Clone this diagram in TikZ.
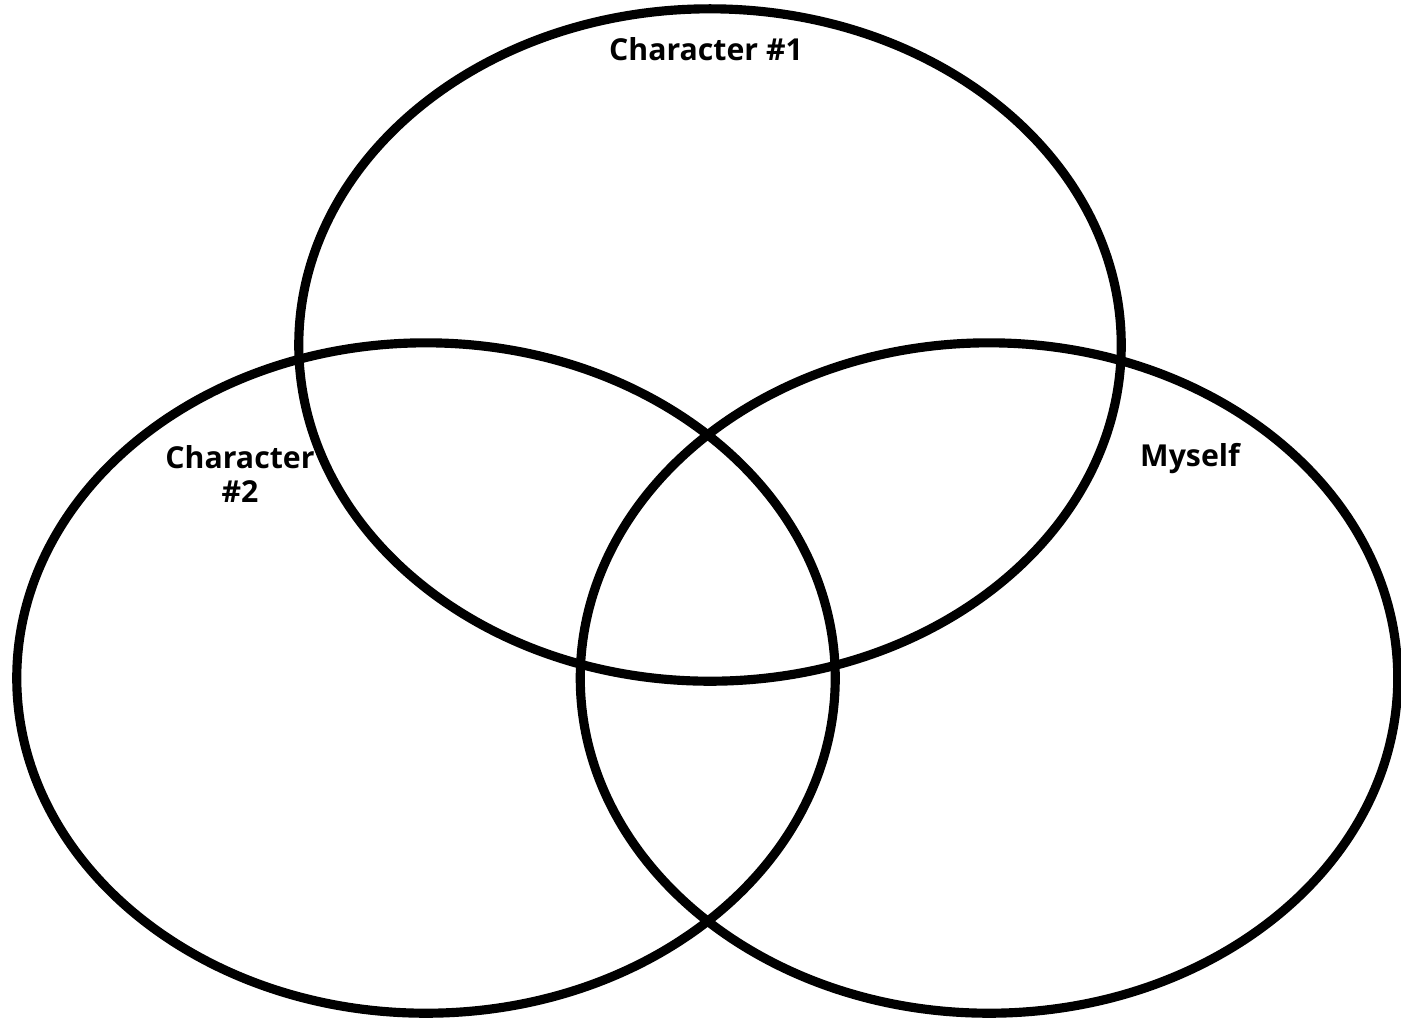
\documentclass[tikz,border=0pt]{standalone}
\usepackage{fontspec}
\setmainfont{Open Sans}
\usetikzlibrary{positioning}

\begin{document}
\begin{tikzpicture}[x=0.01cm, y=-0.01cm,
  ring/.style={draw=black, line width=2.6pt},
  lbl/.style={font=\fontsize{8.6}{9.4}\selectfont\bfseries, align=center, inner sep=0pt}
]
  \useasboundingbox (0,0) rectangle (1401,1017);
  % the three sets
  \draw[ring] (710,345) ellipse [x radius=4.11cm, y radius=3.36cm];
  \draw[ring] (426,678) ellipse [x radius=4.09cm, y radius=3.35cm];
  \draw[ring] (989,678) ellipse [x radius=4.085cm, y radius=3.35cm];
  % labels
  \node[lbl] (charone) at (706,49) {Character \#1};
  \node[lbl] (chartwo) at (240,474) {Character\\\#2};
  \node[lbl] (myself) at (1190,459) {Myself};
\end{tikzpicture}
\end{document}
